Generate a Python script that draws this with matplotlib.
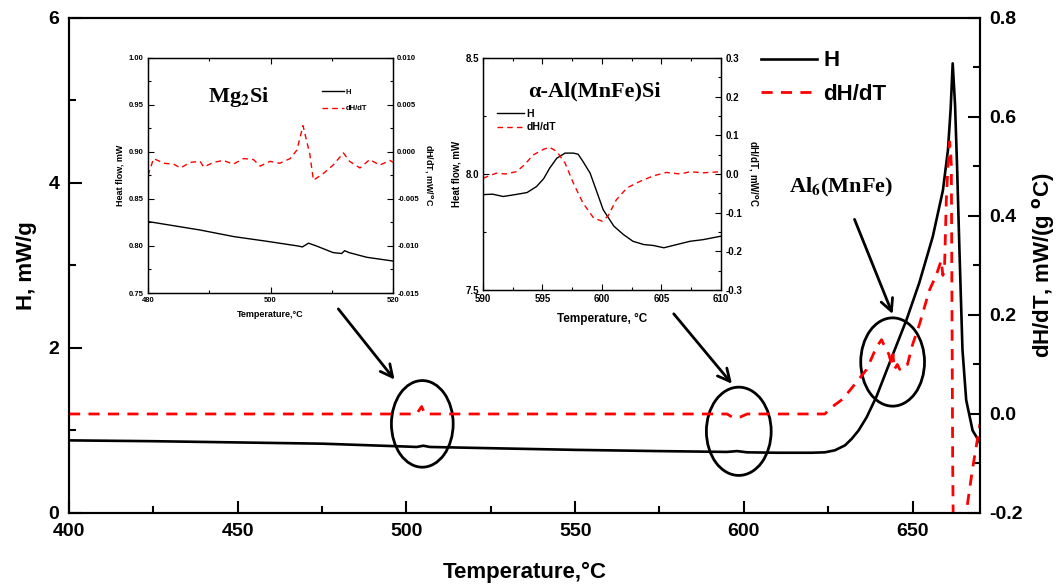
import numpy as np
import matplotlib
matplotlib.use('Agg')
import matplotlib.pyplot as plt
from matplotlib.patches import Ellipse

plt.rcParams['font.family'] = ['Liberation Sans', 'DejaVu Sans']
plt.rcParams['font.weight'] = 'bold'
plt.rcParams['axes.labelweight'] = 'bold'

#*********** main curve data ***********
T_H = [400, 425, 450, 475, 500, 503, 505, 507, 525, 550, 575, 595, 598, 601, 610, 620, 624,
       627, 630, 632, 634, 636.4, 639.3, 643.2, 648.2, 652, 656, 659, 660.5, 661.3, 661.9,
       662.6, 663.2, 663.9, 664.8, 665.9, 667.8, 670]
H_main = [0.88, 0.87, 0.855, 0.84, 0.805, 0.80, 0.815, 0.80, 0.785, 0.765, 0.75, 0.74, 0.75, 0.735,
          0.73, 0.73, 0.735, 0.76, 0.82, 0.90, 1.00, 1.16, 1.41, 1.82, 2.34, 2.79, 3.35, 3.91,
          4.40, 4.90, 5.45, 4.95, 4.20, 3.19, 1.98, 1.37, 1.00, 0.85]

T_D = [400, 503, 504.5, 505.5, 595, 597, 599, 601, 624, 626.3, 629.3, 632.3, 636.4, 639.3,
       640.8, 641.5, 642.3, 643, 643.8, 644.2, 644.6, 645.5, 646.2, 647.3, 648.5, 650, 652,
       655, 657, 658, 658.5, 659, 659.5, 660, 660.5, 661, 661.3, 661.5, 661.7, 661.9, 662.1,
       663.5, 665.9, 667.8, 670]
D_main = [0.0, 0.0, 0.015, 0.0, 0.0, -0.008, -0.006, 0.0, 0.0, 0.015, 0.03, 0.055, 0.09, 0.135,
          0.15, 0.14, 0.13, 0.12, 0.10, 0.12, 0.09, 0.10, 0.09, 0.10, 0.10, 0.14, 0.18,
          0.25, 0.28, 0.30, 0.31, 0.28, 0.30, 0.43, 0.50, 0.55, 0.53, 0.50, 0.20, -0.10, -0.25,
          -0.30, -0.20, -0.11, -0.02]

#*********** inset 1: Mg2Si ***********
T_in1_H = [480, 488.5, 494, 499.4, 504.5, 505.2, 506.2, 507.5, 510.2, 511.6, 512.1, 512.8, 515.7, 520]
H_in1 = [0.826, 0.817, 0.810, 0.805, 0.800, 0.799, 0.803, 0.800, 0.793, 0.792, 0.795, 0.793, 0.788, 0.784]
T_in1_D = [480, 480.9, 482.6, 484.2, 485.3, 486.9, 488.5, 489.1, 490.7, 492.3, 493.9, 495.6,
           497.2, 498.3, 499.9, 501.5, 503.2, 504.3, 505.3, 506.4, 507.0, 508.6, 510.2,
           511.9, 512.9, 514.6, 516.2, 517.8, 519.5, 520]
D_in1 = [-0.0025, -0.0007, -0.0012, -0.0013, -0.0017, -0.0011, -0.0010, -0.0016, -0.0011,
         -0.0009, -0.0013, -0.0007, -0.0008, -0.0015, -0.0010, -0.0012, -0.0007, 0.0002,
         0.0028, -0.0002, -0.0030, -0.0023, -0.0014, -0.0001, -0.0010, -0.0017, -0.0008,
         -0.0014, -0.0009, -0.0011]

#*********** inset 2: alpha-Al(MnFe)Si ***********
T_in2_H = [590, 590.8, 591.7, 592.8, 593.7, 594.5, 595.1, 595.6, 596.2, 596.9, 597.6, 598.0,
           598.4, 599.0, 599.6, 600.1, 601.0, 601.8, 602.6, 603.5, 604.3, 605.2, 606.3,
           607.4, 608.5, 610]
H_in2 = [7.911, 7.913, 7.903, 7.912, 7.92, 7.946, 7.98, 8.025, 8.068, 8.09, 8.09, 8.085,
         8.054, 8.004, 7.918, 7.846, 7.775, 7.739, 7.71, 7.696, 7.692, 7.682, 7.696,
         7.71, 7.717, 7.732]
T_in2_D = [590, 591.1, 591.9, 592.8, 593.5, 594.2, 595.1, 595.6, 596.2, 596.9, 597.6, 598.4,
           599.3, 600.0, 600.5, 601.2, 602.1, 603.2, 604.3, 605.4, 606.6, 607.4, 608.5, 610]
D_in2 = [-0.011, 0.002, 0.0, 0.006, 0.024, 0.049, 0.064, 0.069, 0.058, 0.028, -0.024, -0.075,
         -0.114, -0.122, -0.109, -0.067, -0.036, -0.019, -0.005, 0.004, 0.0, 0.006, 0.003, 0.006]

fig = plt.figure(figsize=(10.62, 5.88), dpi=100)

#************** main axes **************
ax = fig.add_axes([0.065, 0.1276, 0.8578, 0.8418])
ax2 = ax.twinx()
ax.plot(T_H, H_main, color='black', lw=1.9, label='H')
ax2.plot(T_D, D_main, color='red', lw=2.0, dashes=(4, 3), label='dH/dT')
ax.plot([], [], color='red', lw=2.0, dashes=(4, 3), label='dH/dT')

ax.set_xlim(400, 670)
ax.set_ylim(0, 6)
ax2.set_ylim(-0.2, 0.8)
ax.set_xticks([400, 450, 500, 550, 600, 650])
ax.set_xticks(np.arange(425, 670, 50), minor=True)
ax.set_yticks([0, 2, 4, 6])
ax.set_yticks([1, 3, 5], minor=True)
ax2.set_yticks([-0.2, 0.0, 0.2, 0.4, 0.6, 0.8])
ax2.set_yticks([-0.1, 0.1, 0.3, 0.5, 0.7], minor=True)
ax2.set_yticklabels(['-0.2', '0.0', '0.2', '0.4', '0.6', '0.8'])
for a in (ax, ax2):
    a.tick_params(which='major', direction='in', length=9, width=1.5, labelsize=14, pad=7)
    a.tick_params(which='minor', direction='in', length=5, width=1.5)
    for s in a.spines.values():
        s.set_linewidth(1.5)
ax.set_xlabel('Temperature,°C', fontsize=16, labelpad=16)
ax.set_ylabel('H, mW/g', fontsize=16, labelpad=8)
ax2.set_ylabel('dH/dT, mW/(g $^{\\rm o}$C)', fontsize=16, labelpad=5)

leg = ax.legend(loc='upper left', bbox_to_anchor=(0.738, 0.975), frameon=False,
                fontsize=16, handlelength=2.5, labelspacing=0.55, handletextpad=0.3)

# circles and arrows
for cx, cy, w, h in [(504.7, 1.08, 18.3, 1.05), (598.5, 0.99, 19.2, 1.07), (644.1, 1.83, 18.9, 1.07)]:
    ax.add_patch(Ellipse((cx, cy), w, h, fill=False, edgecolor='black', lw=2, zorder=5))
for x0, y0, x1, y1 in [(479.3, 2.50, 497.0, 1.59), (578.7, 2.44, 597.0, 1.54), (632.5, 3.59, 644.4, 2.38)]:
    ax.annotate('', xy=(x1, y1), xytext=(x0, y0),
                arrowprops=dict(arrowstyle='->', lw=2, color='black', mutation_scale=22))
ax.text(628.7, 3.95, 'Al$_6$(MnFe)', fontsize=16, family='Liberation Serif', fontweight='bold',
        ha='center', va='center', math_fontfamily='stix')

#************** inset 1 **************
in1 = fig.add_axes([0.1394, 0.5017, 0.2307, 0.3997])
in1b = in1.twinx()
in1.plot(T_in1_H, H_in1, color='black', lw=1.0, label='H')
in1b.plot(T_in1_D, D_in1, color='red', lw=1.0, dashes=(4, 3), label='dH/dT')
in1.plot([], [], color='red', lw=1.0, dashes=(4, 3), label='dH/dT')
in1.set_xlim(480, 520)
in1.set_ylim(0.75, 1.00)
in1b.set_ylim(-0.015, 0.010)
in1.set_xticks([480, 500, 520])
in1.set_xticks([490, 510], minor=True)
in1.set_yticks([0.75, 0.80, 0.85, 0.90, 0.95, 1.00])
in1.set_yticks(np.arange(0.775, 1.0, 0.05), minor=True)
in1.set_yticklabels(['0.75', '0.80', '0.85', '0.90', '0.95', '1.00'])
in1b.set_yticks([-0.015, -0.010, -0.005, 0.000, 0.005, 0.010])
in1b.set_yticks(np.arange(-0.0125, 0.010, 0.005), minor=True)
in1b.set_yticklabels(['-0.015', '-0.010', '-0.005', '0.000', '0.005', '0.010'])
for a in (in1, in1b):
    a.tick_params(which='major', direction='in', length=4, width=0.8, labelsize=5.5, pad=3, top=True)
    a.tick_params(which='minor', direction='in', length=2.5, width=0.8, top=True)
    for s in a.spines.values():
        s.set_linewidth(0.9)
in1.set_xlabel('Temperature,°C', fontsize=6.5, labelpad=4)
in1.set_ylabel('Heat flow, mW', fontsize=6.5, labelpad=3)
in1b.set_ylabel('dH/dT, mW/$^{\\rm o}$C', fontsize=6.5, labelpad=3, rotation=-90, va='bottom')
in1.legend(loc='upper left', bbox_to_anchor=(0.68, 0.90), frameon=False, fontsize=5.5,
           handlelength=3.0, labelspacing=1.2, handletextpad=0.2)
in1.text(0.37, 0.835, 'Mg$_2$Si', transform=in1.transAxes, fontsize=16, family='Liberation Serif',
         fontweight='bold', ha='center', va='center', math_fontfamily='stix')

#************** inset 2 **************
in2 = fig.add_axes([0.4548, 0.5068, 0.2241, 0.3946])
in2b = in2.twinx()
in2.plot(T_in2_H, H_in2, color='black', lw=1.0, label='H')
in2b.plot(T_in2_D, D_in2, color='red', lw=1.0, dashes=(4, 3), label='dH/dT')
in2.plot([], [], color='red', lw=1.0, dashes=(4, 3), label='dH/dT')
in2.set_xlim(590, 610)
in2.set_ylim(7.5, 8.5)
in2b.set_ylim(-0.3, 0.3)
in2.set_xticks([590, 595, 600, 605, 610])
in2.set_xticks(np.arange(592.5, 610, 5), minor=True)
in2.set_yticks([7.5, 8.0, 8.5])
in2.set_yticks([7.75, 8.25], minor=True)
in2b.set_yticks(np.round(np.arange(-0.3, 0.31, 0.1), 1))
in2b.set_yticks(np.arange(-0.25, 0.3, 0.1), minor=True)
in2b.set_yticklabels(['-0.3', '-0.2', '-0.1', '0.0', '0.1', '0.2', '0.3'])
for a in (in2, in2b):
    a.tick_params(which='major', direction='in', length=4, width=0.8, labelsize=7, pad=3, top=True)
    a.tick_params(which='minor', direction='in', length=2.5, width=0.8, top=True)
    for s in a.spines.values():
        s.set_linewidth(0.9)
in2.set_xlabel('Temperature, °C', fontsize=8.5, labelpad=6)
in2.set_ylabel('Heat flow, mW', fontsize=7, labelpad=3)
in2b.set_ylabel('dH/dT, mW/$^{\\rm o}$C', fontsize=7, labelpad=3, rotation=-90, va='bottom')
in2.legend(loc='upper left', bbox_to_anchor=(0.02, 0.82), frameon=False, fontsize=7.5,
           handlelength=2.6, labelspacing=0.3, handletextpad=0.2)
in2.text(0.47, 0.855, 'α-Al(MnFe)Si', transform=in2.transAxes, fontsize=16, family='Liberation Serif',
         fontweight='bold', ha='center', va='center')

fig.savefig('out.png', dpi=100)
